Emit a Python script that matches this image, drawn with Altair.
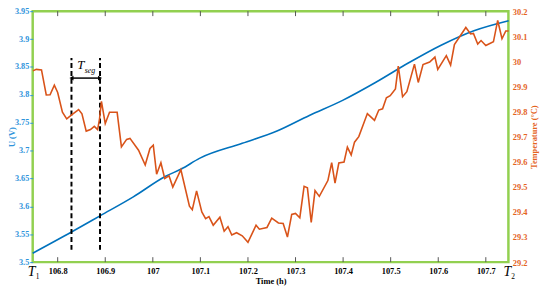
import altair as alt
import pandas as pd

# ---------------- data ----------------
t_u = [106.7475, 106.829, 106.889, 106.959, 107.027, 107.060, 107.098, 107.188,
       107.261, 107.329, 107.399, 107.468, 107.537, 107.606, 107.675, 107.748]
u = [3.516, 3.554, 3.583, 3.617, 3.654, 3.667, 3.686, 3.713,
     3.735, 3.763, 3.790, 3.822, 3.857, 3.889, 3.915, 3.933]

t_temp = [106.748, 106.755, 106.766, 106.776, 106.784, 106.793, 106.800, 106.810, 106.819, 106.830,
          106.844, 106.851, 106.860, 106.869, 106.877, 106.884, 106.888, 106.892, 106.900, 106.909,
          106.925, 106.934, 106.945, 106.952, 106.970, 106.984, 106.994, 107.001, 107.008, 107.017,
          107.025, 107.034, 107.042, 107.059, 107.077, 107.083, 107.092, 107.103, 107.111, 107.118,
          107.127, 107.141, 107.150, 107.158, 107.166, 107.176, 107.188, 107.200, 107.217, 107.224,
          107.240, 107.250, 107.264, 107.274, 107.283, 107.292, 107.300, 107.309, 107.318, 107.325,
          107.333, 107.341, 107.350, 107.368, 107.376, 107.383, 107.391, 107.402, 107.409, 107.417,
          107.424, 107.433, 107.451, 107.466, 107.475, 107.483, 107.491, 107.499, 107.510, 107.516,
          107.525, 107.534, 107.550, 107.558, 107.568, 107.582, 107.593, 107.599, 107.617, 107.626,
          107.634, 107.658, 107.668, 107.674, 107.683, 107.690, 107.700, 107.716, 107.725, 107.734,
          107.742, 107.748]
temp = [29.962, 29.968, 29.966, 29.866, 29.867, 29.905, 29.876, 29.797, 29.771, 29.788,
        29.808, 29.791, 29.722, 29.728, 29.741, 29.728, 29.771, 29.841, 29.752, 29.797,
        29.797, 29.659, 29.689, 29.693, 29.646, 29.587, 29.653, 29.666, 29.550, 29.596,
        29.533, 29.544, 29.499, 29.568, 29.423, 29.409, 29.484, 29.400, 29.373, 29.381,
        29.347, 29.379, 29.323, 29.341, 29.308, 29.317, 29.305, 29.279, 29.347, 29.331,
        29.338, 29.375, 29.356, 29.354, 29.300, 29.390, 29.394, 29.377, 29.502, 29.496,
        29.358, 29.485, 29.462, 29.525, 29.596, 29.515, 29.595, 29.599, 29.658, 29.627,
        29.678, 29.700, 29.792, 29.765, 29.806, 29.811, 29.855, 29.863, 29.890, 29.981,
        29.859, 29.879, 29.989, 29.916, 29.987, 29.997, 30.017, 29.968, 30.023, 29.985,
        30.067, 30.135, 30.109, 30.111, 30.069, 30.083, 30.063, 30.078, 30.163, 30.090,
        30.121, 30.121]

x_ticks = [106.8, 106.9, 107.0, 107.1, 107.2, 107.3, 107.4, 107.5, 107.6, 107.7]
u_ticks = [3.5, 3.55, 3.6, 3.65, 3.7, 3.75, 3.8, 3.85, 3.9, 3.95]
temp_ticks = [29.2, 29.3, 29.4, 29.5, 29.6, 29.7, 29.8, 29.9, 30.0, 30.1, 30.2]

t_range = [106.7475, 107.7475]          # T1 .. T2
end_labels = ["T", "T"]
end_subs = ["1", "2"]
seg_times = [106.829, 106.889]          # the two dashed lines
seg_low, seg_high, seg_arrow = 3.522, 3.866, 3.830
seg_label_t, seg_label_u = 106.8486, 3.854

# ---------------- styling ----------------
BLUE = "#0072BD"
BLUE_LAB = "#2E93DB"
ORANGE = "#D95319"
ORANGE_LAB = "#E4641E"
GREEN = "#92D050"
SERIF = "Liberation Serif"

W, H = 481.5, 254

df_u = pd.DataFrame({"t": t_u, "u": u})
df_temp = pd.DataFrame({"t": t_temp, "temp": temp})
df_seg = pd.DataFrame({"t": seg_times, "lo": [seg_low] * 2, "hi": [seg_high] * 2})
df_arrow = pd.DataFrame({"t": [seg_times[0]], "t2": [seg_times[1]], "u": [seg_arrow]})
df_heads = pd.DataFrame({"t": seg_times, "u": [seg_arrow] * 2,
                         "shape": ["triangle-left", "triangle-right"], "off": [3.5, -3.5]})
df_ticks = pd.DataFrame({"t": x_ticks})
df_ends = pd.DataFrame({"t": t_range, "lab": end_labels, "sub": end_subs})

xscale = alt.Scale(domain=t_range, nice=False, zero=False)
xaxis = alt.Axis(values=x_ticks, format="~g", title="Time (h)", ticks=False, domain=False,
                 grid=False, labelFont=SERIF, labelFontWeight="bold", labelFontSize=8.5,
                 labelColor="black", labelPadding=5, titleFont=SERIF, titleFontWeight="bold",
                 titleFontSize=8.5, titleColor="black", titlePadding=1, labelFlush=False)

uscale = alt.Scale(domain=[3.5, 3.95], nice=False, zero=False)
uaxis = alt.Axis(values=u_ticks, format="~g", title="U (V)", domain=False, grid=False,
                 tickSize=3, tickColor=BLUE_LAB, labelColor=BLUE_LAB, labelFont=SERIF,
                 labelFontWeight="bold", labelFontSize=8.3, labelPadding=1,
                 titleFont=SERIF, titleFontWeight="bold", titleFontSize=8.5,
                 titleColor=BLUE_LAB, titleX=-16.5, labelFlush=False)

tscale = alt.Scale(domain=[29.2, 30.2], nice=False, zero=False)
taxis = alt.Axis(orient="right", values=temp_ticks, format="~g", title="Temperature (°C)",
                 domain=False, grid=False, tickSize=0, labelPadding=4,
                 labelColor=ORANGE_LAB, labelFont=SERIF, labelFontWeight="bold",
                 labelFontSize=8.5, titleFont=SERIF, titleFontWeight="bold", titleFontSize=8.5,
                 titleColor=ORANGE_LAB, titlePadding=3, titleAngle=270, titleBaseline="top",
                 labelFlush=False)


def X(field="t:Q"):
    return alt.X(field, scale=xscale, axis=xaxis)


blue = alt.Chart(df_u).mark_line(color=BLUE, strokeWidth=1.6, interpolate="monotone").encode(
    x=X(), y=alt.Y("u:Q", scale=uscale, axis=uaxis))

dashes = alt.Chart(df_seg).mark_rule(color="black", strokeWidth=2, strokeDash=[5, 3]).encode(
    x=X(), y=alt.Y("lo:Q", scale=uscale, axis=uaxis), y2="hi:Q")

arrow = alt.Chart(df_arrow).mark_rule(color="black", strokeWidth=1.5).encode(
    x=X(), x2="t2:Q", y=alt.Y("u:Q", scale=uscale, axis=uaxis))

heads = alt.Chart(df_heads).mark_point(filled=True, color="black", size=22, opacity=1).encode(
    x=X(), y=alt.Y("u:Q", scale=uscale, axis=uaxis),
    shape=alt.Shape("shape:N", scale=None), xOffset=alt.XOffset("off:Q", scale=None))

seg_T = alt.Chart(pd.DataFrame({"t": [seg_label_t], "u": [seg_label_u]})).mark_text(
    text="T", font=SERIF, fontStyle="italic", fontSize=13, color="black").encode(
    x=X(), y=alt.Y("u:Q", scale=uscale, axis=uaxis))
seg_sub = alt.Chart(pd.DataFrame({"t": [seg_label_t], "u": [seg_label_u]})).mark_text(
    text="seg", font=SERIF, fontStyle="italic", fontSize=8, color="black", align="left",
    dx=4, dy=6).encode(x=X(), y=alt.Y("u:Q", scale=uscale, axis=uaxis))

top_ticks = alt.Chart(df_ticks).mark_rule(color="#555555", strokeWidth=1).encode(
    x=X(), y=alt.value(0), y2=alt.value(5))
bottom_ticks = alt.Chart(df_ticks).mark_rule(color="#555555", strokeWidth=1).encode(
    x=X(), y=alt.value(H - 5), y2=alt.value(H))

ends_T = alt.Chart(df_ends).mark_text(font=SERIF, fontStyle="italic", fontSize=14,
                                      color="black", dx=-1).encode(
    x=X(), y=alt.value(H + 10), text="lab:N")
ends_sub = alt.Chart(df_ends).mark_text(font=SERIF, fontSize=7.5, color="black",
                                        align="left", dx=3).encode(
    x=X(), y=alt.value(H + 15), text="sub:N")

left = alt.layer(blue, dashes, arrow, heads, seg_T, seg_sub, top_ticks, bottom_ticks,
                 ends_T, ends_sub)

orange = alt.Chart(df_temp).mark_line(color=ORANGE, strokeWidth=1.6).encode(
    x=X(), y=alt.Y("temp:Q", scale=tscale, axis=taxis))

chart = alt.layer(left, orange).resolve_scale(y="independent").properties(
    width=W, height=H,
    autosize=alt.AutoSizeParams(type="none"),
    padding={"left": 25, "top": 1.5, "right": 34, "bottom": 25},
    background="white",
).configure_view(stroke=GREEN, strokeWidth=2.5)

chart.save("out.html", embed_options={"renderer": "svg", "actions": False})
